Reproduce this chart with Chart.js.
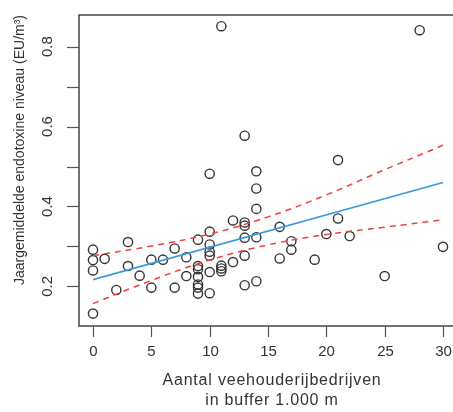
<!DOCTYPE html>
<html>
<head>
<meta charset="utf-8">
<script src="https://cdn.jsdelivr.net/npm/chart.js@4.4.1/dist/chart.umd.min.js"></script>
<style>
  html, body { margin: 0; padding: 0; background: #fff; overflow: hidden; }
  #wrap { width: 453px; height: 412px; overflow: hidden; }
</style>
</head>
<body>
<div id="wrap"><canvas id="chart" width="465" height="412"></canvas></div>
<script>
// aantal veehouderijbedrijven in buffer 1.000 m
const bedrijven = [
  0, 0, 0, 0, 1, 2, 3, 3, 4, 5, 5, 6, 7, 7, 8, 8,
  9, 9, 9, 9, 9, 9, 9,
  10, 10, 10, 10, 10, 10, 10,
  11, 11, 11, 11, 12, 12,
  13, 13, 13, 13, 13, 13,
  14, 14, 14, 14, 14,
  16, 16, 17, 17, 19, 20, 21, 21, 22, 25, 28, 30
];
// jaargemiddelde endotoxine niveau (EU/m3)
const endotoxine = [
  0.292, 0.266, 0.240, 0.132, 0.269, 0.191, 0.311, 0.251, 0.227, 0.267, 0.197, 0.267, 0.295, 0.197, 0.273, 0.226,
  0.317, 0.251, 0.243, 0.224, 0.205, 0.197, 0.182,
  0.482, 0.337, 0.305, 0.287, 0.277, 0.236, 0.183,
  0.851, 0.252, 0.245, 0.238, 0.365, 0.261,
  0.577, 0.360, 0.352, 0.322, 0.277, 0.203,
  0.488, 0.445, 0.394, 0.323, 0.213,
  0.349, 0.270, 0.313, 0.292, 0.267, 0.331, 0.516, 0.370, 0.326, 0.226, 0.841, 0.299
];

const lijnX = [0, 30];
const lijnY = [0.217, 0.460];
const bandX = [0, 5, 10, 15, 20, 25, 30];
const bandBoven = [0.277, 0.301, 0.331, 0.374, 0.429, 0.492, 0.553];
const bandOnder = [0.157, 0.215, 0.266, 0.304, 0.330, 0.348, 0.367];

const xTicks = [0, 5, 10, 15, 20, 25, 30];
const yTicks = [0.2, 0.3, 0.4, 0.5, 0.6, 0.7, 0.8];
const yLabels = [0.2, 0.4, 0.6, 0.8];

const FONT = '"Liberation Sans", Arial, sans-serif';
const TEXT = '#333';

const pairs = (xs, ys) => xs.map((x, i) => ({ x: x, y: ys[i] }));

const axesPlugin = {
  id: 'rAxes',
  afterDraw(chart) {
    const ctx = chart.ctx;
    const a = chart.chartArea;
    const sx = chart.scales.x;
    const sy = chart.scales.y;
    ctx.save();
    // box
    ctx.strokeStyle = '#444';
    ctx.lineWidth = 1.5;
    ctx.strokeRect(a.left, a.top, a.right - a.left, a.bottom - a.top);

    ctx.strokeStyle = '#555';
    ctx.lineWidth = 1.2;
    ctx.fillStyle = TEXT;
    ctx.font = '15px ' + FONT;

    // x ticks
    ctx.textAlign = 'center';
    ctx.textBaseline = 'middle';
    xTicks.forEach(v => {
      const px = Math.round(sx.getPixelForValue(v)) + 0.5;
      ctx.beginPath();
      ctx.moveTo(px, a.bottom);
      ctx.lineTo(px, a.bottom + 11);
      ctx.stroke();
      ctx.fillText(String(v), px, a.bottom + 26);
    });

    // y ticks
    yTicks.forEach(v => {
      const py = Math.round(sy.getPixelForValue(v)) + 0.5;
      ctx.beginPath();
      ctx.moveTo(a.left - 12, py);
      ctx.lineTo(a.left, py);
      ctx.stroke();
    });
    yLabels.forEach(v => {
      const py = sy.getPixelForValue(v);
      ctx.save();
      ctx.translate(48, py);
      ctx.rotate(-Math.PI / 2);
      ctx.fillText(v.toFixed(1), 0, 0);
      ctx.restore();
    });

    // titles
    ctx.font = '16px ' + FONT;
    ctx.letterSpacing = '0.8px';
    ctx.fillText('Aantal veehouderijbedrijven', 272, 381);
    ctx.fillText('in buffer 1.000 m', 272, 401);

    ctx.letterSpacing = '0px';
    ctx.font = '14px ' + FONT;
    ctx.save();
    ctx.translate(20, 150);
    ctx.rotate(-Math.PI / 2);
    ctx.fillText('Jaargemiddelde endotoxine niveau (EU/m³)', 0, 0);
    ctx.restore();

    ctx.restore();
  }
};

new Chart(document.getElementById('chart'), {
  type: 'scatter',
  data: {
    datasets: [
      {
        type: 'line',
        data: pairs(bandX, bandBoven),
        borderColor: '#f04040',
        borderWidth: 1.5,
        borderDash: [6, 5],
        pointRadius: 0,
        tension: 0.4,
        fill: false
      },
      {
        type: 'line',
        data: pairs(bandX, bandOnder),
        borderColor: '#f04040',
        borderWidth: 1.5,
        borderDash: [6, 5],
        pointRadius: 0,
        tension: 0.4,
        fill: false
      },
      {
        type: 'line',
        data: pairs(lijnX, lijnY),
        borderColor: '#3a9ad8',
        borderWidth: 1.6,
        pointRadius: 0,
        fill: false
      },
      {
        data: pairs(bedrijven, endotoxine),
        pointRadius: 4.6,
        pointBorderWidth: 1.4,
        borderColor: '#333',
        backgroundColor: 'rgba(0,0,0,0)',
        pointHoverRadius: 4.6
      }
    ]
  },
  options: {
    responsive: false,
    animation: false,
    devicePixelRatio: 1,
    layout: { padding: { left: 0, top: 15, right: 8, bottom: 0 } },
    plugins: { legend: { display: false }, tooltip: { enabled: false } },
    scales: {
      x: {
        type: 'linear',
        min: -1.2,
        max: 31.2,
        grid: { display: false },
        border: { display: false },
        ticks: { display: false },
        afterFit: s => { s.height = 86; }
      },
      y: {
        type: 'linear',
        min: 0.101,
        max: 0.879,
        grid: { display: false },
        border: { display: false },
        ticks: { display: false },
        afterFit: s => { s.width = 79; }
      }
    }
  },
  plugins: [axesPlugin]
});
</script>
</body>
</html>
